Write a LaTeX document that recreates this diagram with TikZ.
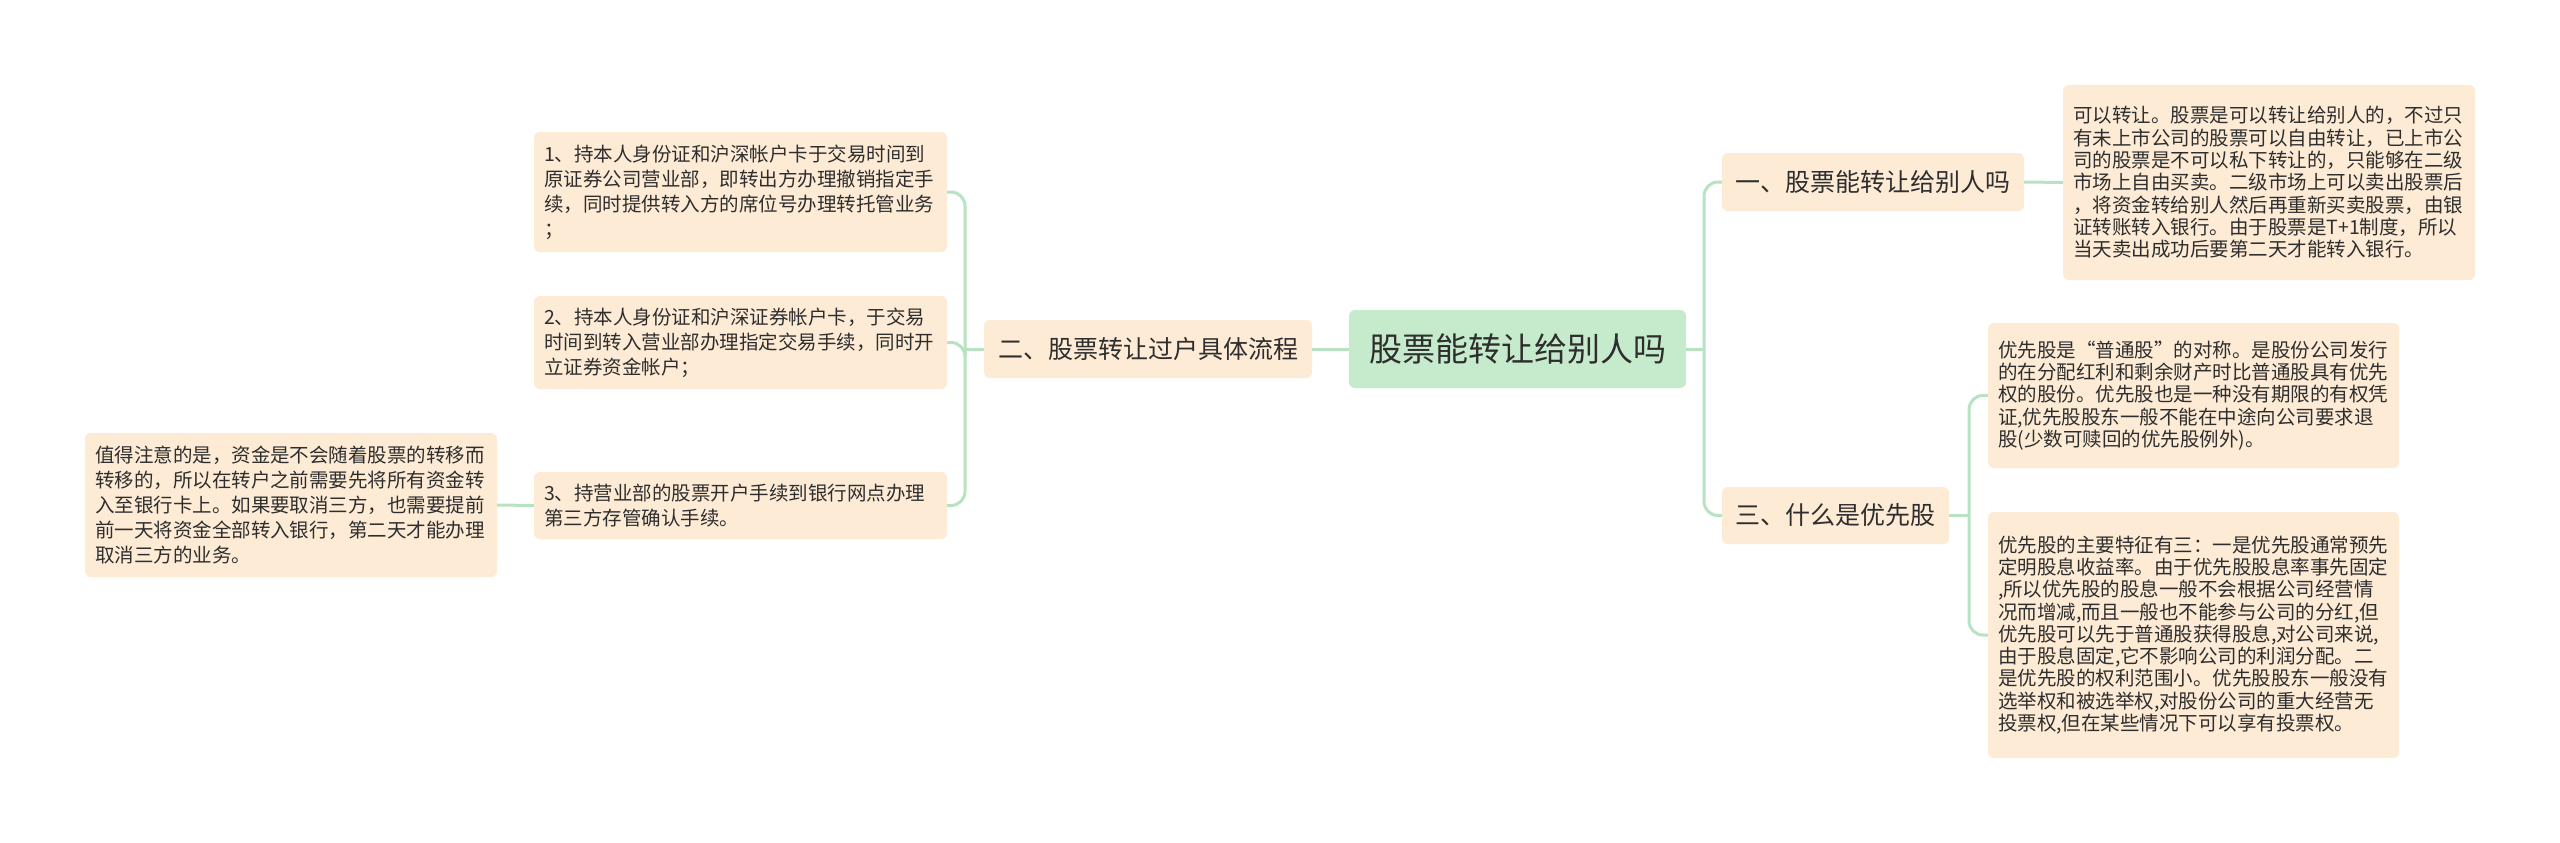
\documentclass[tikz,border=0pt]{standalone}
\usepackage{fontspec}
\setmainfont{Noto Sans CJK SC}
\definecolor{rootfill}{HTML}{C6EBCC}
\definecolor{peach}{HTML}{FDEBD5}
\definecolor{linecol}{HTML}{B8E3C2}
\definecolor{txt}{HTML}{2E2E2E}
\begin{document}
\begin{tikzpicture}[x=1pt,y=-1pt,
  boxbase/.style={rounded corners=6pt, inner xsep=10pt, inner ysep=0pt, text=txt, draw=none},
  rootbox/.style={boxbase, fill=rootfill, align=center, font=\fontsize{33pt}{38pt}\selectfont},
  branchbox/.style={boxbase, fill=peach, align=center, font=\fontsize{25pt}{30pt}\selectfont},
  leafL/.style={boxbase, fill=peach, align=left, font=\fontsize{19.5pt}{25pt}\selectfont},
  leafR/.style={boxbase, fill=peach, align=left, font=\fontsize{19.5pt}{22.3pt}\selectfont},
  conn/.style={draw=linecol, line width=3pt, rounded corners=14pt}]
\useasboundingbox[fill=white] (0,0) rectangle (2560,843);

% root
\node[rootbox, minimum width=337pt, minimum height=78pt] (root) at (1517.5,349) {股票能转让给别人吗};

% branches
\node[branchbox, minimum width=328pt, minimum height=58pt] (b2) at (1148,349) {二、股票转让过户具体流程};
\node[branchbox, minimum width=302pt, minimum height=58pt] (b1) at (1873,182) {一、股票能转让给别人吗};
\node[branchbox, minimum width=227pt, minimum height=57pt] (b3) at (1835.5,515.5) {三、什么是优先股};

% left leaves
\node[leafL, text width=393pt, minimum height=120pt] (i1) at (740.5,192) {1、持本人身份证和沪深帐户卡于交易时间到\\原证券公司营业部，即转出方办理撤销指定手\\续，同时提供转入方的席位号办理转托管业务\\；};
\node[leafL, text width=393pt, minimum height=93pt] (i2) at (740.5,342.5) {2、持本人身份证和沪深证券帐户卡，于交易\\时间到转入营业部办理指定交易手续，同时开\\立证券资金帐户；};
\node[leafL, text width=393pt, minimum height=67pt] (i3) at (740.5,505.5) {3、持营业部的股票开户手续到银行网点办理\\第三方存管确认手续。};
\node[leafL, text width=392pt, minimum height=144pt] (note) at (291,505) {值得注意的是，资金是不会随着股票的转移而\\转移的，所以在转户之前需要先将所有资金转\\入至银行卡上。如果要取消三方，也需要提前\\前一天将资金全部转入银行，第二天才能办理\\取消三方的业务。};

% right leaves
\node[leafR, text width=392pt, minimum height=195pt] (n1) at (2269,182.5) {可以转让。股票是可以转让给别人的，不过只\\有未上市公司的股票可以自由转让，已上市公\\司的股票是不可以私下转让的，只能够在二级\\市场上自由买卖。二级市场上可以卖出股票后\\，将资金转给别人然后再重新买卖股票，由银\\证转账转入银行。由于股票是T+1制度，所以\\当天卖出成功后要第二天才能转入银行。};
\node[leafR, text width=391pt, minimum height=145pt] (n3a) at (2193.5,395.5) {优先股是“普通股”的对称。是股份公司发行\\的在分配红利和剩余财产时比普通股具有优先\\权的股份。优先股也是一种没有期限的有权凭\\证,优先股股东一般不能在中途向公司要求退\\股(少数可赎回的优先股例外)。};
\node[leafR, text width=391pt, minimum height=246pt] (n3b) at (2193.5,635) {优先股的主要特征有三：一是优先股通常预先\\定明股息收益率。由于优先股股息率事先固定\\,所以优先股的股息一般不会根据公司经营情\\况而增减,而且一般也不能参与公司的分红,但\\优先股可以先于普通股获得股息,对公司来说,\\由于股息固定,它不影响公司的利润分配。二\\是优先股的权利范围小。优先股股东一般没有\\选举权和被选举权,对股份公司的重大经营无\\投票权,但在某些情况下可以享有投票权。};

% junctions
\coordinate (jL) at (965,349);
\coordinate (jR) at (1704,349);
\coordinate (j3) at (1969,515.5);

% connectors
\draw[conn] (root.west) -- (b2.east);
\draw[conn] (b2.west) -- (jL);
\draw[conn] (jL) |- (i1.east);
\draw[conn] (jL) |- (i2.east);
\draw[conn] (jL) |- (i3.east);
\draw[conn] (i3.west) -- (note.east);

\draw[conn] (root.east) -- (jR);
\draw[conn] (jR) |- (b1.west);
\draw[conn] (jR) |- (b3.west);
\draw[conn] (b1.east) -- (n1.west);
\draw[conn] (b3.east) -- (j3);
\draw[conn] (j3) |- (n3a.west);
\draw[conn] (j3) |- (n3b.west);
\end{tikzpicture}
\end{document}
